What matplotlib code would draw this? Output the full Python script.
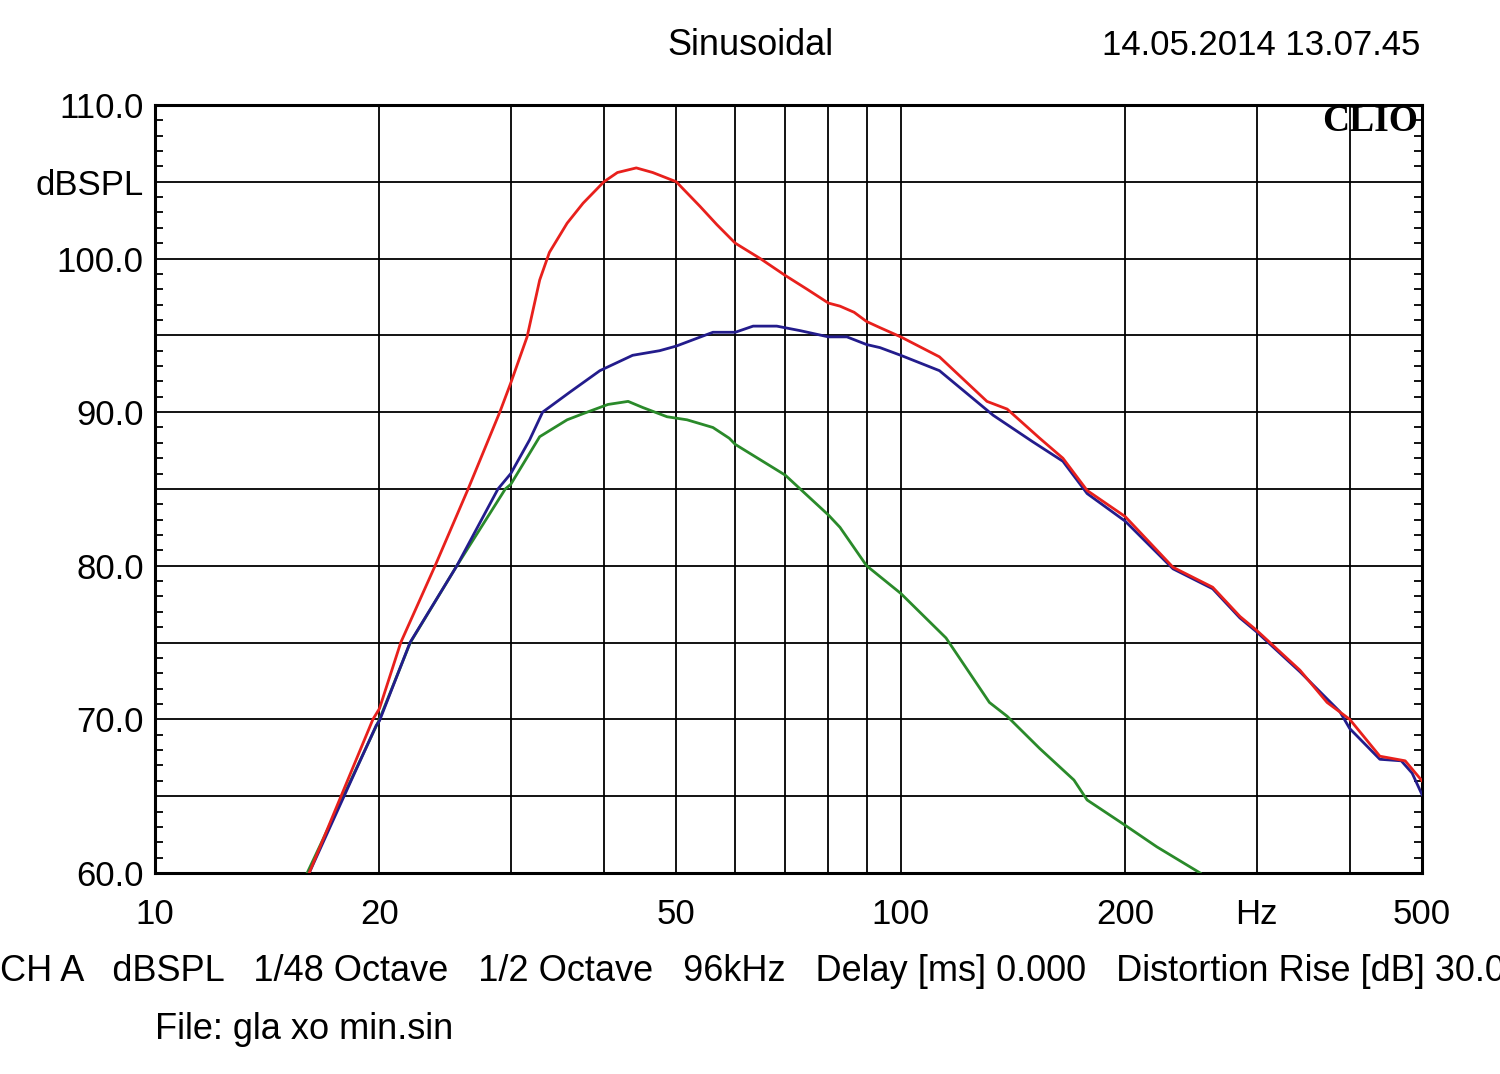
import matplotlib
matplotlib.use("Agg")
import matplotlib.pyplot as plt
from matplotlib.ticker import FixedLocator, NullFormatter

plt.rcParams["font.family"] = ["Liberation Sans", "DejaVu Sans"]

# DATA

red_hz = [16.1, 19.6, 20, 21.36, 23.75, 26.3, 29.0, 30, 31.55, 32.8, 33.8, 35.7, 37.5,
          40, 41.7, 44.2, 46.5, 50, 53.8, 56.7, 60, 64.8, 70, 74.9, 80, 82.9, 86.6,
          90, 93.8, 100, 112.7, 130.5, 138.9, 153.6, 165, 177.8, 200, 231.8, 262,
          285, 300, 343, 373, 400, 439, 474.7, 500]
red_db = [60.0, 70.0, 70.7, 75.0, 80.0, 85.0, 90.0, 91.9, 94.9, 98.6, 100.4, 102.3,
          103.6, 105.0, 105.6, 105.9, 105.6, 105.0, 103.4, 102.2, 101.0, 100.0, 98.9,
          98.0, 97.1, 96.9, 96.5, 95.9, 95.5, 94.9, 93.6, 90.7, 90.2, 88.3, 87.0,
          84.9, 83.2, 79.9, 78.6, 76.7, 75.8, 73.2, 71.1, 70.0, 67.6, 67.3, 66.0]

blue_hz = [16.1, 19.8, 20, 21.98, 25.4, 28.84, 30, 31.8, 33.1, 36.0, 39.5, 43.7, 47.5,
           50, 56, 60, 63.4, 68.2, 73.4, 80, 84.7, 90, 93.8, 100, 112.7, 133, 150,
           165, 177.8, 200, 231.8, 262, 285, 300, 343, 388, 400, 439, 469, 485, 500]
blue_db = [60.0, 69.6, 69.9, 75.0, 80.0, 85.0, 86.0, 88.2, 90.0, 91.3, 92.7, 93.7,
           94.0, 94.3, 95.2, 95.2, 95.6, 95.6, 95.3, 94.9, 94.9, 94.4, 94.2, 93.7,
           92.7, 89.8, 88.1, 86.8, 84.7, 82.9, 79.8, 78.5, 76.6, 75.7, 73.1, 70.5,
           69.4, 67.4, 67.3, 66.5, 65.1]

green_hz = [16.0, 20, 22.0, 25.4, 29.5, 30, 32.8, 35.7, 37.5, 40.5, 43.1, 45.1, 48.6,
            51.7, 56, 58.9, 60, 70, 80, 82.9, 90, 100, 115, 131.5, 138.9, 153.6,
            170.7, 177.8, 200, 220.5, 252]
green_db = [60.0, 70.0, 75.0, 80.0, 85.0, 85.3, 88.4, 89.5, 89.9, 90.5, 90.7, 90.3,
            89.7, 89.5, 89.0, 88.3, 87.9, 85.9, 83.3, 82.5, 80.0, 78.2, 75.3, 71.1,
            70.2, 68.1, 66.05, 64.75, 63.1, 61.7, 60.0]

x_ticks = [10, 20, 50, 100, 200, 300, 500]
x_labels = ["10", "20", "50", "100", "200", "Hz", "500"]
x_grid = [20, 30, 40, 50, 60, 70, 80, 90, 100, 200, 300, 400]
y_ticks = [60, 70, 80, 90, 100, 105, 110]
y_labels = ["60.0", "70.0", "80.0", "90.0", "100.0", "dBSPL", "110.0"]

# PLOT

fig = plt.figure(figsize=(15, 10.74), dpi=100)
ax = fig.add_axes([0.1033, 0.1872, 0.8447, 0.7151])

ax.set_xscale("log")
ax.set_xlim(10, 500)
ax.set_ylim(60, 110)

for f in x_grid:
    ax.axvline(f, color="black", lw=1.3, zorder=1)
for v in range(65, 110, 5):
    ax.axhline(v, color="black", lw=1.3, zorder=1)

ax.plot(green_hz, green_db, color="#2a8a2a", lw=2.0, zorder=3)
ax.plot(blue_hz, blue_db, color="#231c8c", lw=2.0, zorder=4)
ax.plot(red_hz, red_db, color="#e8201c", lw=2.0, zorder=5)

ax.xaxis.set_major_locator(FixedLocator(x_ticks))
ax.set_xticklabels(x_labels)
ax.xaxis.set_minor_formatter(NullFormatter())
ax.xaxis.set_minor_locator(FixedLocator([]))
ax.tick_params(axis="x", which="both", length=0, pad=18, labelsize=25)

ax.set_yticks(y_ticks)
ax.set_yticklabels(y_labels)
ax.set_yticks([v for v in range(61, 110) if v % 5 != 0], minor=True)
ax.tick_params(axis="y", which="major", length=0, pad=8, labelsize=25)
ax.tick_params(axis="y", which="minor", direction="in", length=6, width=1.3,
               left=True, right=True)

for s in ax.spines.values():
    s.set_linewidth(2.2)

ax.text(0.997, 0.978, "CLIO", transform=ax.transAxes, ha="right", va="center",
        fontsize=27, fontweight="bold", family=["Liberation Serif", "DejaVu Serif"])

fig.text(0.5, 0.958, "Sinusoidal", ha="center", va="center", fontsize=26)
fig.text(0.947, 0.958, "14.05.2014 13.07.45", ha="right", va="center", fontsize=25)

fig.text(0.0, 0.095, "CH A   dBSPL   1/48 Octave   1/2 Octave   96kHz   Delay [ms] 0.000"
         "   Distortion Rise [dB] 30.00", ha="left", va="center", fontsize=26)
fig.text(0.1033, 0.041, "File: gla xo min.sin", ha="left", va="center", fontsize=26)

fig.savefig("out.png", dpi=100, facecolor="white")
